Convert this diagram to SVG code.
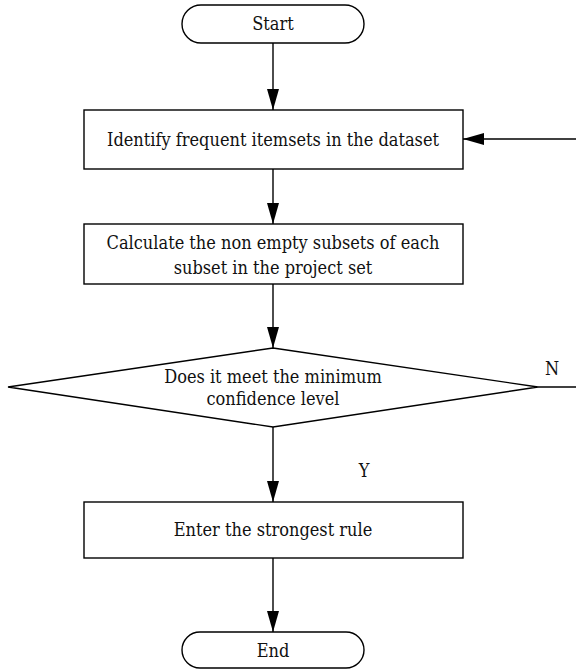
<svg xmlns="http://www.w3.org/2000/svg" width="576" height="670" viewBox="0 0 576 670">
<style>
.n{fill:#fff;stroke:#000;stroke-width:1.4}
.c{fill:none;stroke:#000;stroke-width:1.4}
.t{font-family:'DejaVu Serif Condensed','DejaVu Serif',serif;font-size:18px;fill:#111;text-anchor:middle}
</style>
<defs>
<marker id="ah" markerUnits="userSpaceOnUse" markerWidth="22" markerHeight="12" refX="21" refY="6" orient="auto">
<path d="M0,0 L21,6 L0,12 Z" fill="#000"/>
</marker>
</defs>
<rect width="576" height="670" fill="#fff"/>
<g id="start"><rect class="n" x="182" y="5" width="182" height="38" rx="19"/><text class="t" x="273" y="30">Start</text></g>
<g id="identify"><rect class="n" x="84" y="110" width="379" height="59"/><text class="t" x="273" y="146">Identify frequent itemsets in the dataset</text></g>
<g id="calculate"><rect class="n" x="84" y="224" width="379" height="60"/><text class="t" x="273" y="249">Calculate the non empty subsets of each</text><text class="t" x="273" y="274">subset in the project set</text></g>
<g id="decision"><polygon class="n" points="273,348 538,387 273,427 8,387"/><text class="t" x="273" y="383">Does it meet the minimum</text><text class="t" x="273" y="405">confidence level</text></g>
<g id="enter"><rect class="n" x="84" y="502" width="379" height="56"/><text class="t" x="273" y="536">Enter the strongest rule</text></g>
<g id="end"><rect class="n" x="182" y="632" width="182" height="36" rx="18"/><text class="t" x="273" y="657">End</text></g>
<g id="connectors">
<line class="c" x1="273" y1="43" x2="273" y2="110" marker-end="url(#ah)"/>
<line class="c" x1="273" y1="169" x2="273" y2="224" marker-end="url(#ah)"/>
<line class="c" x1="273" y1="284" x2="273" y2="348" marker-end="url(#ah)"/>
<line class="c" x1="273" y1="427" x2="273" y2="502" marker-end="url(#ah)"/>
<line class="c" x1="273" y1="558" x2="273" y2="632" marker-end="url(#ah)"/>
<line class="c" x1="576" y1="139" x2="463" y2="139" marker-end="url(#ah)"/>
<line class="c" x1="538" y1="387" x2="576" y2="387"/>
<text class="t" x="552" y="375">N</text>
<text class="t" x="364" y="477">Y</text>
</g>
</svg>
